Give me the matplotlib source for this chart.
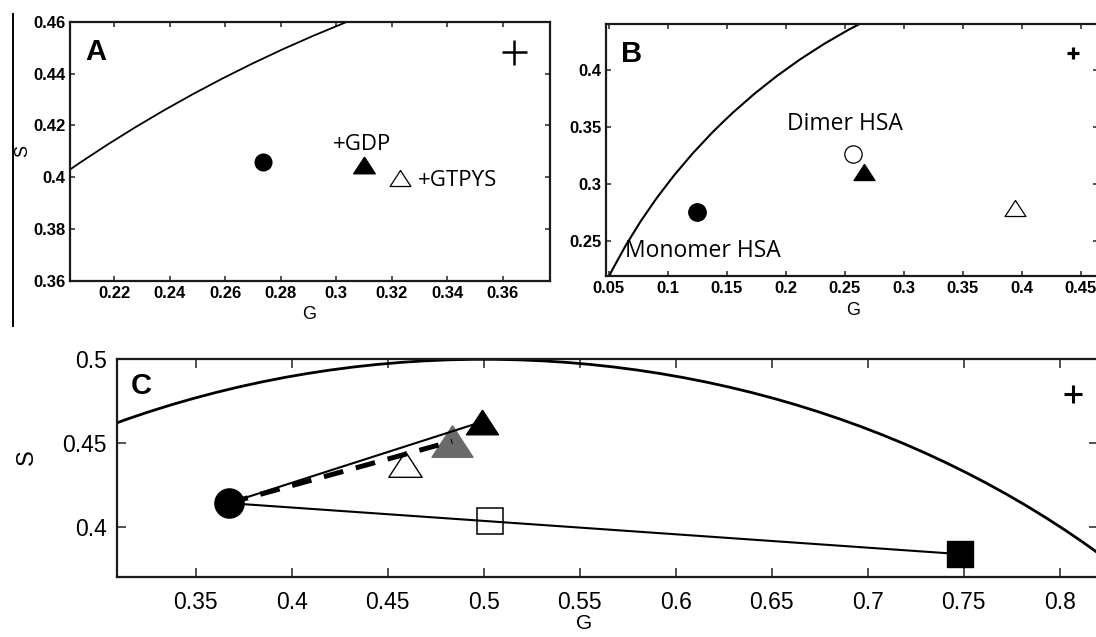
import matplotlib
matplotlib.use("Agg")
import matplotlib.pyplot as plt
from matplotlib.patches import Arc
from matplotlib.lines import Line2D

# ---------------- data ----------------
# universal semicircle (reference curve): centre and diameter in (G, S)
CIRCLE_CENTER = (0.5, 0.0)
CIRCLE_DIAMETER = 1.0

# Panel A
A_circle = (0.2736, 0.4060)
A_tri_filled = (0.3099, 0.4049)
A_tri_open = (0.3229, 0.3999)
A_text = ["+GDP", "+GTPϒS"]
A_text_pos = [(0.2987, 0.4105), (0.3294, 0.3965)]
A_xticks = [0.22, 0.24, 0.26, 0.28, 0.30, 0.32, 0.34, 0.36]
A_xticklabels = ["0.22", "0.24", "0.26", "0.28", "0.3", "0.32", "0.34", "0.36"]
A_yticks = [0.36, 0.38, 0.40, 0.42, 0.44, 0.46]
A_yticklabels = ["0.36", "0.38", "0.4", "0.42", "0.44", "0.46"]
A_xlim = (0.2042, 0.3771)
A_ylim = (0.36, 0.46)

# Panel B
B_circle_filled = (0.1247, 0.2754)
B_circle_open = (0.2571, 0.3257)
B_tri_filled = (0.2667, 0.3104)
B_tri_open = (0.3940, 0.2786)
B_text = ["Monomer HSA", "Dimer HSA"]
B_text_pos = [(0.0639, 0.2359), (0.2009, 0.3470)]
B_xticks = [0.05, 0.10, 0.15, 0.20, 0.25, 0.30, 0.35, 0.40, 0.45]
B_xticklabels = ["0.05", "0.1", "0.15", "0.2", "0.25", "0.3", "0.35", "0.4", "0.45"]
B_yticks = [0.25, 0.30, 0.35, 0.40]
B_yticklabels = ["0.25", "0.3", "0.35", "0.4"]
B_xlim = (0.048, 0.4647)
B_ylim = (0.219, 0.44)

# Panel C
C_circle = (0.3671, 0.4140)
C_tri_black = (0.4993, 0.4627)
C_tri_gray = (0.4836, 0.4510)
C_tri_open = (0.4590, 0.4376)
C_sq_open = (0.5033, 0.4036)
C_sq_filled = (0.7483, 0.3835)
C_xticks = [0.35, 0.40, 0.45, 0.50, 0.55, 0.60, 0.65, 0.70, 0.75, 0.80]
C_xticklabels = ["0.35", "0.4", "0.45", "0.5", "0.55", "0.6", "0.65", "0.7", "0.75", "0.8"]
C_yticks = [0.40, 0.45, 0.50]
C_yticklabels = ["0.4", "0.45", "0.5"]
C_xlim = (0.3089, 0.82)
C_ylim = (0.37, 0.50)

# ---------------- figure ----------------
W, H = 1096, 637
fig = plt.figure(figsize=(W / 100, H / 100), dpi=100)
fig.patch.set_facecolor("white")

TICKFONT = "Liberation Sans"
LABELFONT = ["Open Sans", "DejaVu Sans"]

# triangle marker wider than tall
TRI = [(0, 1), (-1.3, -1), (1.3, -1), (0, 1)]


def add_axes_px(left, right, top, bottom):
    return fig.add_axes([left / W, 1 - bottom / H, (right - left) / W, (bottom - top) / H])


def style_axes(ax, xt, xtl, yt, ytl, xlim, ylim, fs, weight, tlen, xpad, ypad, spw):
    ax.set_xlim(*xlim)
    ax.set_ylim(*ylim)
    ax.set_xticks(xt)
    ax.set_xticklabels(xtl, fontsize=fs, fontfamily=TICKFONT, fontweight=weight)
    ax.set_yticks(yt)
    ax.set_yticklabels(ytl, fontsize=fs, fontfamily=TICKFONT, fontweight=weight)
    ax.tick_params(axis="both", which="both", direction="in", top=True, right=True,
                   length=tlen, width=1.1, color="#222222")
    ax.tick_params(axis="x", pad=xpad)
    ax.tick_params(axis="y", pad=ypad)
    for s in ax.spines.values():
        s.set_linewidth(spw)
        s.set_color("#1a1a1a")


def add_circle_curve(ax, lw):
    arc = Arc(CIRCLE_CENTER, CIRCLE_DIAMETER, CIRCLE_DIAMETER, theta1=0, theta2=180,
              color="black", lw=lw, zorder=2)
    ax.add_patch(arc)


# ---------- Panel A ----------
axA = add_axes_px(70.4, 550, 21.7, 281)
style_axes(axA, A_xticks, A_xticklabels, A_yticks, A_yticklabels, A_xlim, A_ylim,
           12, "bold", 3.6, 3.8, 3.3, 1.6)
add_circle_curve(axA, 1.3)
axA.plot(*A_circle, marker="o", ms=12, color="black", ls="none", zorder=4)
axA.plot(*A_tri_filled, marker=TRI, ms=15.5, color="black", ls="none", zorder=4)
axA.plot(*A_tri_open, marker=TRI, ms=15, mfc="white", mec="black", mew=0.9, ls="none", zorder=4)
for t, (x, y) in zip(A_text, A_text_pos):
    axA.text(x, y, t, fontsize=16, family=LABELFONT, ha="left", va="baseline")
axA.text(0.0304, 0.852, "A", transform=axA.transAxes, fontsize=21, fontweight="bold",
         fontfamily=TICKFONT, ha="left", va="baseline")
axA.plot([0.925], [0.883], marker="+", ms=18, mew=1.8, color="black", transform=axA.transAxes,
         clip_on=False)
axA.set_xlabel("G", fontsize=13, fontfamily=TICKFONT)
axA.xaxis.set_label_coords(0.4975, -0.0964)
axA.set_ylabel("S", fontsize=13, fontfamily=TICKFONT)
axA.yaxis.set_label_coords(-0.0826, 0.5)

# ---------- Panel B ----------
axB = add_axes_px(606.2, 1098, 24, 276)
style_axes(axB, B_xticks, B_xticklabels, B_yticks, B_yticklabels, B_xlim, B_ylim,
           12, "bold", 3.6, 3.8, 3.3, 1.6)
add_circle_curve(axB, 1.5)
axB.plot(*B_circle_filled, marker="o", ms=12.5, color="black", ls="none", zorder=4)
axB.plot(*B_circle_open, marker="o", ms=12.5, mfc="white", mec="black", mew=0.9, ls="none", zorder=4)
axB.plot(*B_tri_filled, marker=TRI, ms=15, color="black", ls="none", zorder=4)
axB.plot(*B_tri_open, marker=TRI, ms=15, mfc="white", mec="black", mew=0.9, ls="none", zorder=4)
for t, (x, y) in zip(B_text, B_text_pos):
    axB.text(x, y, t, fontsize=16.5, family=LABELFONT, ha="left", va="baseline", zorder=3)
axB.text(0.0311, 0.848, "B", transform=axB.transAxes, fontsize=21, fontweight="bold",
         fontfamily=TICKFONT, ha="left", va="baseline")
axB.plot([0.949], [0.884], marker="+", ms=9, mew=2.3, color="black", transform=axB.transAxes,
         clip_on=False)
axB.set_xlabel("G", fontsize=13, fontfamily=TICKFONT)
axB.xaxis.set_label_coords(0.503, -0.102)

# ---------- Panel C ----------
axC = add_axes_px(116.8, 1098, 359.3, 576.7)
style_axes(axC, C_xticks, C_xticklabels, C_yticks, C_yticklabels, C_xlim, C_ylim,
           16.5, "normal", 6.2, 10.0, 7.4, 1.6)
add_circle_curve(axC, 2.0)
# markers under lines
axC.plot(*C_tri_gray, marker=TRI, ms=29.5, color="#6a6a6a", ls="none", zorder=3)
axC.plot(*C_tri_open, marker=TRI, ms=24, mfc="none", mec="black", mew=1.0, ls="none", zorder=3)
axC.plot(*C_sq_open, marker="s", ms=18.5, mfc="none", mec="black", mew=1.1, ls="none", zorder=3)
# connecting lines
axC.plot([C_circle[0], C_tri_black[0]], [C_circle[1], C_tri_black[1]], color="black", lw=1.5, zorder=4)
axC.plot([C_circle[0], C_sq_filled[0]], [C_circle[1], C_sq_filled[1]], color="black", lw=1.5, zorder=4)
axC.plot([C_circle[0], C_tri_gray[0]], [C_circle[1], C_tri_gray[1]], color="black", lw=3.6,
         dashes=(4.0, 2.6), dash_capstyle="butt", zorder=4)
# markers over lines
axC.plot(*C_circle, marker="o", ms=21, color="black", ls="none", zorder=5)
axC.plot(*C_tri_black, marker=TRI, ms=23, color="black", ls="none", zorder=5)
axC.plot(*C_sq_filled, marker="s", ms=18.5, color="black", ls="none", zorder=5)
axC.text(0.0142, 0.840, "C", transform=axC.transAxes, fontsize=21, fontweight="bold",
         fontfamily=TICKFONT, ha="left", va="baseline")
axC.plot([0.9745], [0.840], marker="+", ms=13, mew=2.2, color="black", transform=axC.transAxes,
         clip_on=False)
axC.set_xlabel("G", fontsize=15, fontfamily=TICKFONT)
axC.xaxis.set_label_coords(0.476, -0.1716)
axC.set_ylabel("S", fontsize=17, fontfamily=TICKFONT)
axC.yaxis.set_label_coords(-0.0808, 0.552)

# vertical rule at far left
fig.add_artist(Line2D([12.5 / W, 12.5 / W], [1 - 14 / H, 1 - 326 / H], transform=fig.transFigure,
                      color="black", lw=1.4))

fig.savefig("out.png", dpi=100, facecolor="white")
